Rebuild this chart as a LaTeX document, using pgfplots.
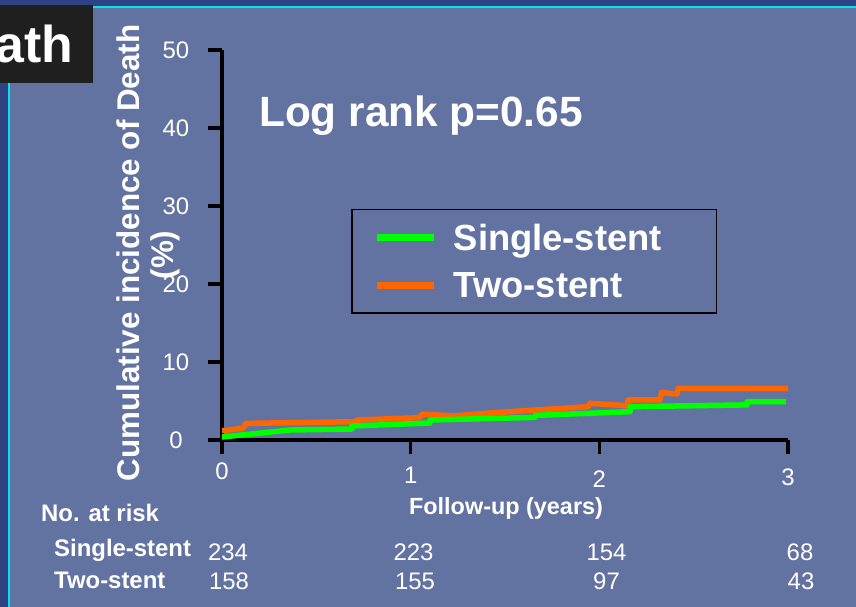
\documentclass[border=0pt]{standalone}
\usepackage{fontspec}
\setmainfont{Liberation Sans}
\usepackage{pgfplots}
\pgfplotsset{compat=1.18}
\definecolor{bg}{RGB}{99,115,161}
\definecolor{dk}{RGB}{47,66,132}
\definecolor{cy}{RGB}{0,229,238}
\definecolor{grn}{RGB}{0,255,0}
\definecolor{orn}{RGB}{255,102,0}
\newcommand{\fsz}[1]{\fontsize{#1}{#1}\selectfont}
\begin{document}
\begin{tikzpicture}
\begin{scope}[x=1bp,y=1bp]
\useasboundingbox (0,0) rectangle (856,607);
\fill[bg] (0,0) rectangle (856,607);
\fill[dk] (0,601) rectangle (856,607);
\fill[dk] (0,0) rectangle (7.5,607);
\draw[cy, line width=2.5bp] (93,600) -- (856,600);
\draw[cy, line width=2.5bp] (8.8,0) -- (8.8,525);
\fill[black!88] (0,524) rectangle (93,602);
\begin{scope}
\clip (0,524) rectangle (93,602);
\node[anchor=base east, inner sep=0, text=white, font=\bfseries\fsz{52}] at (73.5,544) {Death};
\end{scope}
\node[anchor=base west, inner sep=0, text=white, font=\bfseries\fsz{42.5}] at (259,480) {Log rank p=0.65};
\node[rotate=90, anchor=base, inner sep=0, text=white, font=\bfseries\fsz{31.5}] at (173.5,352) {(\%)};
% number at risk
\node[anchor=base west, inner sep=0, text=white, font=\bfseries\fsz{24}] at (41,85) {No. at risk};
\node[anchor=base west, inner sep=0, text=white, font=\bfseries\fsz{24}] at (54,50) {Single-stent};
\node[anchor=base west, inner sep=0, text=white, font=\bfseries\fsz{24}] at (54,18) {Two-stent};
\foreach \x/\n in {228/234, 413.5/223, 606.5/154, 800/68}
  \node[anchor=base, inner sep=0, text=white, font=\fsz{24}] at (\x,46) {\n};
\foreach \x/\n in {229/158, 415/155, 606.5/97, 801/43}
  \node[anchor=base, inner sep=0, text=white, font=\fsz{24}] at (\x,17) {\n};
\end{scope}
\begin{axis}[
  at={(222bp,167bp)}, anchor=south west,
  scale only axis, width=566bp, height=390bp,
  xmin=0, xmax=3, ymin=0, ymax=50,
  clip=false,
  axis lines*=left,
  axis line style={line width=3.5bp, black},
  tick align=outside,
  major tick length=14bp,
  every tick/.style={black, line width=3.5bp},
  xtick={0,1,2,3},
  xticklabels={0,\raisebox{-4bp}{1},\raisebox{-8bp}{2},\raisebox{-6bp}{3}},
  ytick={0,10,20,30,40,50},
  yticklabels={0,10,20,30,40,50},
  tick label style={text=white, font=\fsz{24}},
  xticklabel style={anchor=base, yshift=-26bp},
  yticklabel style={anchor=center, xshift=-32bp},
  xlabel={Follow-up (years)},
  xlabel style={at={(axis description cs:0.5018,-0.1745)}, anchor=center, font=\bfseries\fsz{23.5}, text=white},
  ylabel={Cumulative incidence of Death},
  ylabel style={at={(axis description cs:-0.1466,0.4795)}, anchor=base, font=\bfseries\fsz{31.5}, text=white},
  reverse legend,
  legend cell align=left,
  legend style={at={(axis description cs:0.2279,0.5923)}, anchor=north west,
    draw=black, line width=1.5bp, fill=none, text=white,
    font=\bfseries\fsz{36.5}, inner xsep=22bp, inner ysep=12bp, row sep=17bp,
    /tikz/every odd column/.append style={column sep=14bp}},
  legend image code/.code={\draw[#1, line width=7bp] (0bp,0bp) -- (57bp,0bp);},
]
\addplot[orn, line width=5.5bp, line join=round] coordinates {
(0,1.19) (0.111,1.5) (0.127,2.13) (0.716,2.35) (0.716,2.56) (1.049,2.86) (1.060,3.33) (1.224,3.08) (1.473,3.55) (1.940,4.27) (1.950,4.7) (2.147,4.4) (2.152,5.13) (2.321,5.13) (2.330,6.07) (2.412,5.9) (2.417,6.62) (3.0,6.62)
};
\addlegendentry{\makebox[239bp][l]{Two-stent}}
\addplot[grn, line width=5.5bp, line join=round] coordinates {
(0,0.38) (0.360,1.28) (0.689,1.41) (0.689,1.79) (1.102,2.18) (1.102,2.56) (1.659,2.9) (1.659,3.15) (2.163,3.63) (2.163,4.27) (2.783,4.5) (2.783,4.91) (2.99,4.91)
};
\addlegendentry{\makebox[239bp][l]{Single-stent}}
\end{axis}
\end{tikzpicture}
\end{document}
